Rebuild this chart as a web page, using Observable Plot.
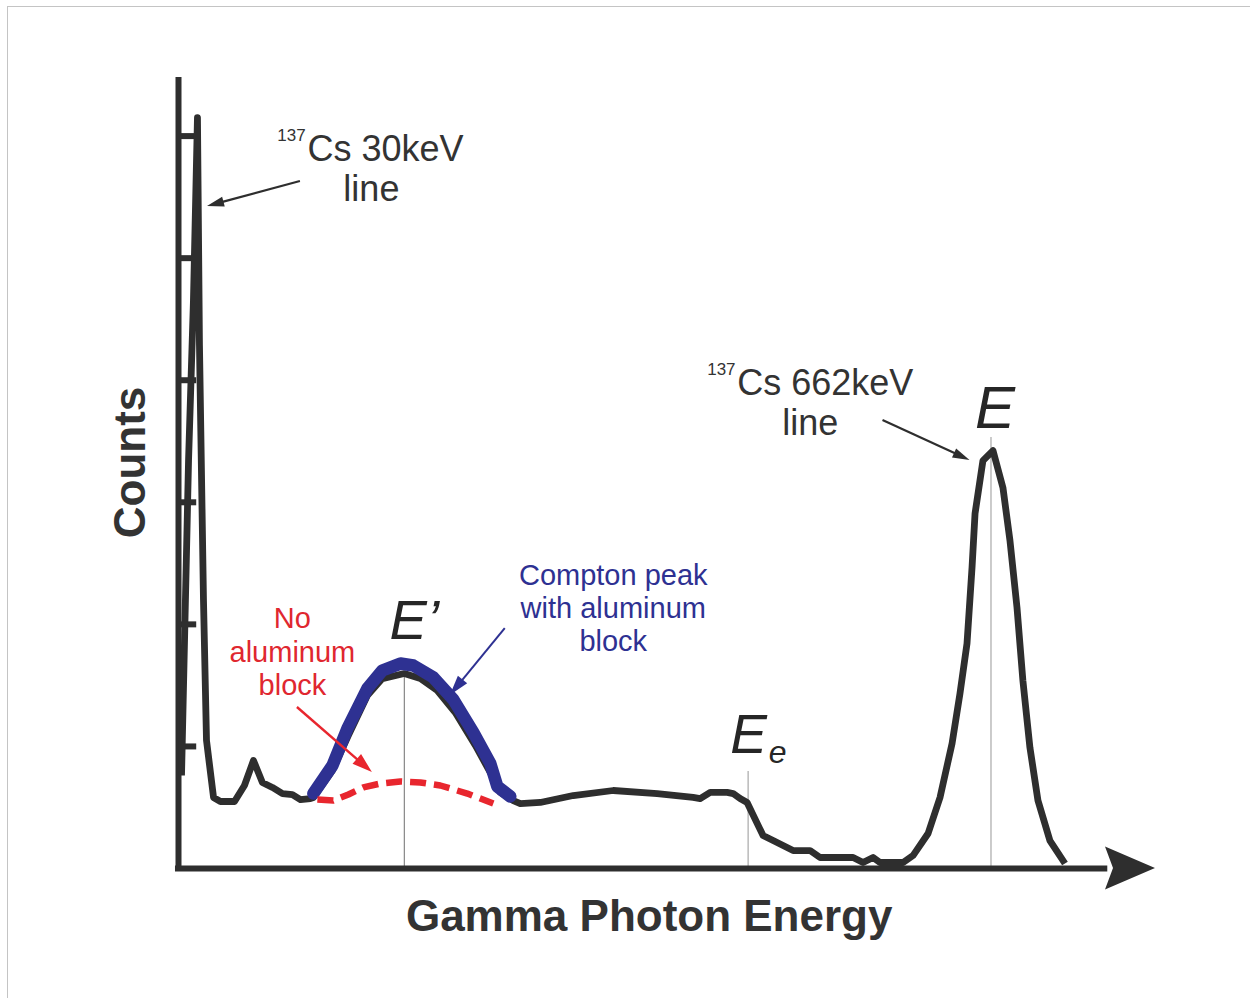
<!DOCTYPE html>
<html><head><meta charset="utf-8">
<script src="https://cdn.jsdelivr.net/npm/d3@7"></script>
<script src="https://cdn.jsdelivr.net/npm/@observablehq/plot@0.6"></script>
<style>
html,body{margin:0;padding:0;background:#fff;}
#frame{position:absolute;left:7px;top:6px;width:1243px;height:992px;border-top:1px solid #c4c4c4;border-left:1px solid #c4c4c4;}
#chart{position:absolute;left:0;top:0;}
</style></head><body><div id="frame"></div><div id="chart"></div>
<script>
// ---- Data (energy in keV, counts in arbitrary units) ----
const spectrumEnergy = [17.4, 23.0, 26.9, 30.1, 31.7, 34.9, 37.3, 42.9, 48.4, 59.6, 67.5, 74.7, 81.8, 89.8, 97.8, 105.7, 112.1, 120.0,
  122.4, 137.6, 150.3, 165.4, 177.3, 194.8, 207.6, 221.1, 235.4, 251.4, 263.3, 271.2, 281.6,
  287.2, 303.1, 329.3, 361.2, 396.2, 424.8, 430.4, 438.4, 451.9, 456.7, 462.2, 467.8,
  480.5, 488.5, 504.4, 517.9, 525.9, 552.2, 560.1, 568.1, 573.6, 592.0,
  599.9, 611.9, 621.4, 631.0, 637.3, 642.9, 646.9, 649.3, 655.6, 663.6,
  671.5, 677.1, 682.7, 687.4, 693.0, 699.4, 708.9, 720.9];
const spectrumCounts = [0.762, 3.342, 4.653, 6.152, 4.284, 2.195, 1.049, 0.582, 0.549, 0.549, 0.680, 0.885, 0.705, 0.664, 0.614, 0.606, 0.565, 0.573,
  0.582, 0.803, 1.090, 1.417, 1.556, 1.597, 1.556, 1.458, 1.278, 1.008, 0.786, 0.623, 0.557,
  0.532, 0.541, 0.598, 0.639, 0.614, 0.582, 0.573, 0.623, 0.623, 0.614, 0.573, 0.541,
  0.270, 0.229, 0.147, 0.147, 0.090, 0.090, 0.049, 0.090, 0.049, 0.049,
  0.106, 0.287, 0.582, 1.024, 1.434, 1.843, 2.466, 2.908, 3.342, 3.424,
  3.121, 2.687, 2.138, 1.540, 0.991, 0.557, 0.229, 0.041];

const withAlEnergy = [122.4, 137.6, 149.5, 165.4, 177.3, 191.7, 202.0, 217.9, 233.8, 249.8, 263.3, 268.9, 279.2];
const withAlCounts = [0.614, 0.844, 1.147, 1.475, 1.622, 1.679, 1.663, 1.565, 1.384, 1.114, 0.860, 0.672, 0.590];

const noAlEnergy = [125.6, 138.3, 150.3, 162.2, 175.8, 191.7, 207.6, 223.5, 245.0, 265.7];
const noAlCounts = [0.565, 0.557, 0.606, 0.664, 0.696, 0.713, 0.705, 0.680, 0.614, 0.532];

const yTicks = [1, 2, 3, 4, 5, 6];
const markerEnergy = [194.8, 468.6, 662.0];   // E', Ee, E
const markerTop = [1.60, 0.795, 3.53];

// annotation arrows: [x1, y1, x2, y2] in keV / counts
const blackArrows = [[112.1, 5.628, 38.1, 5.423], [576.0, 3.670, 645.3, 3.342]];
const redArrows = [[109.7, 1.319, 169.4, 0.786]];
const blueArrows = [[275.2, 1.966, 231.5, 1.417]];

// ---- Build ----
const xOrigin = 15, xEnd = 793, yTop = 6.48;
const ink = "#2e2e2e", textInk = "#333333", red = "#e8262e", blue = "#2e3192";
const font = "'Liberation Sans', Arial, Helvetica, sans-serif";

const spectrum = spectrumEnergy.map((e, i) => ({e, c: spectrumCounts[i]}));
const withAl = withAlEnergy.map((e, i) => ({e, c: withAlCounts[i]}));
const noAl = noAlEnergy.map((e, i) => ({e, c: noAlCounts[i]}));
const markers = markerEnergy.map((e, i) => ({e, top: markerTop[i]}));

function arrowMark(rows, {stroke, width, length, headWidth, notch = 0}) {
  return (index, scales) => {
    const g = d3.create("svg:g");
    for (const [a, b, c, d] of rows) {
      const x1 = scales.x(a), y1 = scales.y(b), x2 = scales.x(c), y2 = scales.y(d);
      const L = Math.hypot(x2 - x1, y2 - y1), ux = (x2 - x1) / L, uy = (y2 - y1) / L;
      const nx = -uy, ny = ux;
      const bx = x2 - ux * length, by = y2 - uy * length;
      if (width > 0) {
        g.append("line").attr("x1", x1).attr("y1", y1)
          .attr("x2", bx + ux * (notch + 1)).attr("y2", by + uy * (notch + 1))
          .attr("stroke", stroke).attr("stroke-width", width);
      }
      g.append("path")
        .attr("d", `M${x2},${y2}L${bx + nx * headWidth / 2},${by + ny * headWidth / 2}L${bx + ux * notch},${by + uy * notch}L${bx - nx * headWidth / 2},${by - ny * headWidth / 2}Z`)
        .attr("fill", stroke);
    }
    return g.node();
  };
}

const chart = Plot.plot({
  width: 1250, height: 998,
  marginLeft: 178, marginRight: 95, marginTop: 77, marginBottom: 130,
  x: {type: "linear", domain: [xOrigin, xEnd], axis: null},
  y: {type: "linear", domain: [0, yTop], axis: null},
  style: {background: "transparent", overflow: "visible", fontFamily: font},
  marks: [
    // thin marker lines
    Plot.ruleX(markers.slice(0, 1), {x: "e", y1: 0, y2: "top", stroke: "#6e6e6e", strokeWidth: 1}),
    Plot.ruleX(markers.slice(1), {x: "e", y1: 0, y2: "top", stroke: "#a8a8a8", strokeWidth: 1.2}),
    // axes
    Plot.ruleY(yTicks, {x1: xOrigin, x2: xOrigin + 14.5, stroke: ink, strokeWidth: 6}),
    Plot.ruleX([xOrigin], {y1: -0.025, y2: yTop, stroke: ink, strokeWidth: 6}),
    Plot.ruleY([0], {x1: xOrigin - 2.4, x2: xEnd - 38, stroke: ink, strokeWidth: 6}),
    arrowMark([[xOrigin, 0, xEnd, 0]], {stroke: ink, width: 0, length: 50, headWidth: 43, notch: 8}),
    // spectrum
    Plot.line(spectrum, {x: "e", y: "c", stroke: ink, strokeWidth: 6.8, strokeLinejoin: "round", strokeLinecap: "butt"}),
    Plot.line(withAl, {x: "e", y: "c", stroke: blue, strokeWidth: 12.5, strokeLinejoin: "round", strokeLinecap: "round"}),
    Plot.line(noAl, {x: "e", y: "c", stroke: red, strokeWidth: 6.5, strokeDasharray: "16,8", strokeLinecap: "butt"}),
    // annotation arrows
    arrowMark(blackArrows, {stroke: ink, width: 2.2, length: 17, headWidth: 10}),
    arrowMark(redArrows, {stroke: red, width: 2.4, length: 20, headWidth: 13}),
    arrowMark(blueArrows, {stroke: blue, width: 2, length: 20, headWidth: 12}),
    // 30 keV label
    Plot.text([{e: 116.3, c: 5.96, t: "137"}], {x: "e", y: "c", text: "t", fontSize: 17, fill: textInk, textAnchor: "end", lineAnchor: "bottom"}),
    Plot.text([{e: 117.7, c: 5.80, t: "Cs 30keV"}], {x: "e", y: "c", text: "t", fontSize: 36, fill: textInk, textAnchor: "start", lineAnchor: "bottom"}),
    Plot.text([{e: 168.6, c: 5.47, t: "line"}], {x: "e", y: "c", text: "t", fontSize: 36, fill: textInk, textAnchor: "middle", lineAnchor: "bottom"}),
    // 662 keV label
    Plot.text([{e: 458.6, c: 4.04, t: "137"}], {x: "e", y: "c", text: "t", fontSize: 17, fill: textInk, textAnchor: "end", lineAnchor: "bottom"}),
    Plot.text([{e: 459.9, c: 3.875, t: "Cs 662keV"}], {x: "e", y: "c", text: "t", fontSize: 36, fill: textInk, textAnchor: "start", lineAnchor: "bottom"}),
    Plot.text([{e: 518.0, c: 3.555, t: "line"}], {x: "e", y: "c", text: "t", fontSize: 36, fill: textInk, textAnchor: "middle", lineAnchor: "bottom"}),
    // energy symbols
    Plot.text([{e: 665.2, c: 3.605, t: "E"}], {x: "e", y: "c", text: "t", fontSize: 60, fontStyle: "italic", fill: "#262626", textAnchor: "middle", lineAnchor: "bottom"}),
    Plot.text([{e: 183.0, c: 1.884, t: "E\u2019"}], {x: "e", y: "c", text: "t", fontSize: 56, fontStyle: "italic", fill: "#262626", textAnchor: "start", lineAnchor: "bottom"}),
    Plot.text([{e: 454.3, c: 0.950, t: "E"}], {x: "e", y: "c", text: "t", fontSize: 55, fontStyle: "italic", fill: "#262626", textAnchor: "start", lineAnchor: "bottom"}),
    Plot.text([{e: 485.0, c: 0.868, t: "e"}], {x: "e", y: "c", text: "t", fontSize: 32, fontStyle: "italic", fill: "#262626", textAnchor: "start", lineAnchor: "bottom"}),
    // coloured annotations
    Plot.text([{e: 105.7, c: 1.425, t: "No\naluminum\nblock"}], {x: "e", y: "c", text: "t", fontSize: 29, lineHeight: 1.14, fill: "#e0272f", textAnchor: "middle", lineAnchor: "bottom"}),
    Plot.text([{e: 361.2, c: 1.778, t: "Compton peak\nwith aluminum\nblock"}], {x: "e", y: "c", text: "t", fontSize: 29, lineHeight: 1.14, fill: blue, textAnchor: "middle", lineAnchor: "bottom"}),
    // axis titles
    Plot.text([{e: -23.2, c: 3.326, t: "Counts"}], {x: "e", y: "c", text: "t", fontSize: 44, fontWeight: "bold", fill: textInk, rotate: -90, textAnchor: "middle", lineAnchor: "middle"}),
    Plot.text([{e: 389.8, c: -0.508, t: "Gamma Photon Energy"}], {x: "e", y: "c", text: "t", fontSize: 44, fontWeight: "bold", fill: textInk, textAnchor: "middle", lineAnchor: "bottom"})
  ]
});
document.getElementById("chart").appendChild(chart);
</script></body></html>
